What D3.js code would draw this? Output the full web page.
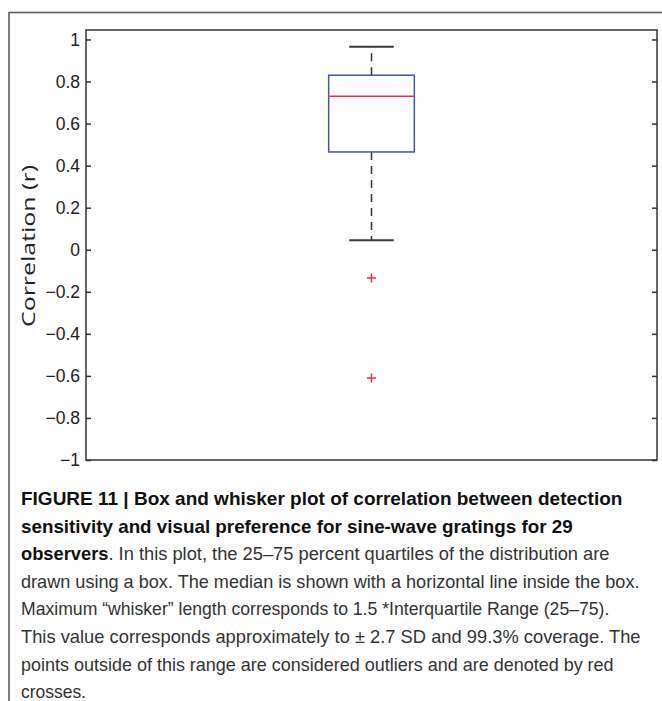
<!DOCTYPE html>
<html>
<head>
<meta charset="utf-8">
<script src="https://cdn.jsdelivr.net/npm/d3@7"></script>
<style>
  html, body { margin: 0; padding: 0; background: #fff; }
  svg { display: block; }
</style>
</head>
<body>
<svg id="chart" width="662" height="701"></svg>
<script>
// ---- data ----
const categories = ["observers"];
const whiskerHigh = [0.965];
const quartile3 = [0.83];
const medians = [0.73];
const quartile1 = [0.465];
const whiskerLow = [0.045];
const outliers = [-0.135, -0.61];
const yTicks = [-1, -0.8, -0.6, -0.4, -0.2, 0, 0.2, 0.4, 0.6, 0.8, 1];
const yTickLabels = ["\u22121", "\u22120.8", "\u22120.6", "\u22120.4", "\u22120.2", "0", "0.2", "0.4", "0.6", "0.8", "1"];
const yLabel = "Correlation (r)";
const captionLines = [
  [{t: "FIGURE 11 | Box and whisker plot of correlation between detection", b: true}],
  [{t: "sensitivity and visual preference for sine-wave gratings for 29", b: true}],
  [{t: "observers", b: true}, {t: ". In this plot, the 25\u201375 percent quartiles of the distribution are", b: false}],
  [{t: "drawn using a box. The median is shown with a horizontal line inside the box.", b: false}],
  [{t: "Maximum \u201cwhisker\u201d length corresponds to 1.5 *Interquartile Range (25\u201375).", b: false}],
  [{t: "This value corresponds approximately to \u00b1 2.7 SD and 99.3% coverage. The", b: false}],
  [{t: "points outside of this range are considered outliers and are denoted by red", b: false}],
  [{t: "crosses.", b: false}]
];
const captionWidths = [602, 552, 589, 619, 589, 620, 593, 65];

// ---- layout ----
const svg = d3.select("#chart");
const plot = {left: 86, right: 657, top: 30, bottom: 460};

// outer frame (top + left rule)
svg.append("path")
  .attr("d", `M9,701 L9,12.5 L662,12.5`)
  .attr("fill", "none").attr("stroke", "#555").attr("stroke-width", 1.5);

const x = d3.scaleBand().domain(categories).range([plot.left, plot.right]).paddingInner(0).paddingOuter(0);
const y = d3.scaleLinear().domain([-1, 1.045]).range([plot.bottom, plot.top]);

const g = svg.append("g");

// plot frame
g.append("rect")
  .attr("x", plot.left).attr("y", plot.top)
  .attr("width", plot.right - plot.left).attr("height", plot.bottom - plot.top)
  .attr("fill", "none").attr("stroke", "#333").attr("stroke-width", 1.5);

// left axis (ticks inside)
const axL = d3.axisLeft(y).tickValues(yTicks)
  .tickFormat((d, i) => yTickLabels[i]).tickSizeInner(-5).tickSizeOuter(0).tickPadding(6);
const gL = g.append("g").attr("transform", `translate(${plot.left},0)`).call(axL);
gL.select(".domain").remove();
gL.selectAll(".tick line").attr("stroke", "#333").attr("stroke-width", 1.5);
gL.selectAll(".tick text")
  .attr("font-family", "'Liberation Sans', Arial, sans-serif")
  .attr("font-size", 17.5).attr("fill", "#222");

// right axis (ticks inside, no labels)
const axR = d3.axisRight(y).tickValues(yTicks).tickFormat("").tickSizeInner(-5).tickSizeOuter(0);
const gR = g.append("g").attr("transform", `translate(${plot.right},0)`).call(axR);
gR.select(".domain").remove();
gR.selectAll(".tick line").attr("stroke", "#333").attr("stroke-width", 1.5);

// y label
g.append("text")
  .attr("transform", `translate(35,${(plot.top + plot.bottom) / 2 + 1}) rotate(-90)`)
  .attr("text-anchor", "middle")
  .attr("font-family", "'Open Sans', sans-serif")
  .attr("font-size", 18.5).attr("fill", "#222")
  .attr("textLength", 162).attr("lengthAdjust", "spacingAndGlyphs")
  .text(yLabel);

// box plot
const boxW = x.bandwidth() * 0.15;
const capW = boxW * 0.52;
categories.forEach((c, i) => {
  const cx = x(c) + x.bandwidth() / 2;
  // whiskers dashed
  g.append("line").attr("x1", cx).attr("x2", cx)
    .attr("y1", y(quartile3[i])).attr("y2", y(whiskerHigh[i]))
    .attr("stroke", "#333").attr("stroke-width", 1.5).attr("stroke-dasharray", "8,6");
  g.append("line").attr("x1", cx).attr("x2", cx)
    .attr("y1", y(quartile1[i])).attr("y2", y(whiskerLow[i]))
    .attr("stroke", "#333").attr("stroke-width", 1.5).attr("stroke-dasharray", "8,6");
  // caps
  [whiskerHigh[i], whiskerLow[i]].forEach(v => {
    g.append("line").attr("x1", cx - capW / 2).attr("x2", cx + capW / 2)
      .attr("y1", y(v)).attr("y2", y(v))
      .attr("stroke", "#3a3a3a").attr("stroke-width", 2);
  });
  // box
  g.append("rect")
    .attr("x", cx - boxW / 2).attr("y", y(quartile3[i]))
    .attr("width", boxW).attr("height", y(quartile1[i]) - y(quartile3[i]))
    .attr("fill", "#fff").attr("stroke", "#4456b4").attr("stroke-width", 1.5);
  // median
  g.append("line").attr("x1", cx - boxW / 2).attr("x2", cx + boxW / 2)
    .attr("y1", y(medians[i])).attr("y2", y(medians[i]))
    .attr("stroke", "#e8334d").attr("stroke-width", 1.5);
  // outliers
  outliers.forEach(v => {
    const py = y(v);
    g.append("path")
      .attr("d", `M${cx - 4.5},${py} H${cx + 4.5} M${cx},${py - 4.5} V${py + 4.5}`)
      .attr("stroke", "#e8334d").attr("stroke-width", 1.5).attr("fill", "none");
  });
});

// caption
const capX = 21, capBase = 505, capLH = 27.6;
captionLines.forEach((segs, i) => {
  const t = svg.append("text")
    .attr("x", capX).attr("y", capBase + i * capLH)
    .attr("font-family", "'Liberation Sans', Arial, sans-serif")
    .attr("font-size", 17.5).attr("fill", "#2a2a2a");
  segs.forEach(s => {
    t.append("tspan").attr("font-weight", s.b ? "bold" : "normal")
      .attr("fill", s.b ? "#111" : "#333").text(s.t);
  });
  const w = t.node().getComputedTextLength();
  const sx = captionWidths[i] / w;
  t.attr("transform", `translate(${capX},0) scale(${sx},1) translate(${-capX},0)`);
});
</script>
</body>
</html>
